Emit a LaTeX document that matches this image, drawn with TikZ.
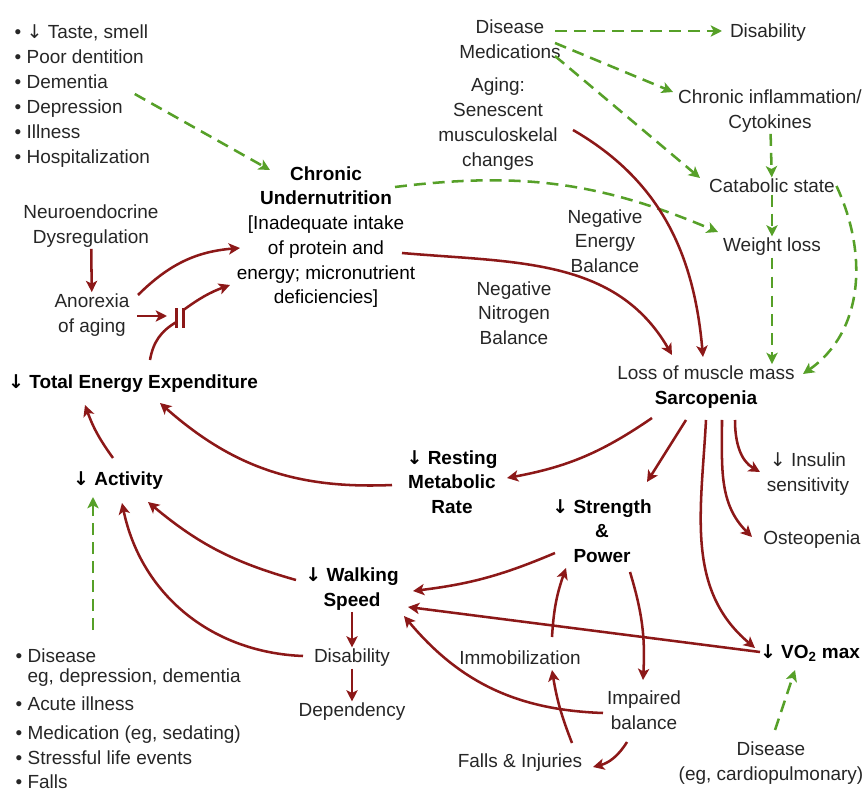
\documentclass[tikz,border=0pt]{standalone}
\usepackage{fontspec}
\setmainfont{Liberation Sans}
\newfontfamily\arrowfont{DejaVu Sans}
\newcommand{\dnarrow}{{\arrowfont ↓}}
\usepackage{tikz}
\usetikzlibrary{arrows.meta,calc}
\definecolor{arrowred}{RGB}{140,24,24}
\definecolor{dashgreen}{RGB}{86,160,40}
\definecolor{textgray}{RGB}{38,38,38}

\begin{document}
\begin{tikzpicture}[
        x=0.025cm, y=0.025cm,
        >={Stealth[length=8pt,width=8pt,inset=2pt]},
        txt/.style={align=center, inner sep=1pt, text=textgray, font=\fontsize{13.5}{17.6}\selectfont},
        bold txt/.style={txt, text=black, font=\fontsize{13.5}{17.6}\selectfont\bfseries},
        red line/.style={draw=arrowred, line width=1.8pt},
        red arrow/.style={red line, ->},
        green arrow/.style={->, draw=dashgreen, line width=1.8pt, dash pattern=on 8.5pt off 5pt},
    ]

    \useasboundingbox (0,0) rectangle (864,792);

    \node[txt, align=left, anchor=west, font=\fontsize{13.5}{17.9}\selectfont] (risks) at (13,696) {• \dnarrow\ Taste, smell\\• Poor dentition\\• Dementia\\• Depression\\• Illness\\• Hospitalization};
    \node[bold txt] (undernut) at (326,555) {Chronic\\Undernutrition\\\mdseries [Inadequate intake\\\mdseries of protein and\\\mdseries energy; micronutrient\\\mdseries deficiencies]};
    \node[txt] (neuro) at (91,566) {Neuroendocrine\\Dysregulation};
    \node[txt] (anorexia) at (92,477) {Anorexia\\of aging};
    \node[bold txt] (tee) at (133,408) {\dnarrow\ Total Energy Expenditure};
    \node[bold txt] (activity) at (118,311) {\dnarrow\ Activity};
    \node[bold txt] (rmr) at (452,310) {\dnarrow\ Resting\\Metabolic\\Rate};
    \node[txt] (sarc) at (706,405) {Loss of muscle mass\\\textcolor{black}{\bfseries Sarcopenia}};
    \node[bold txt] (strength) at (602,261) {\dnarrow\ Strength\\\&\\Power};
    \node[txt] (insulin) at (808,318) {\dnarrow\ Insulin\\sensitivity};
    \node[txt] (osteo) at (812,252) {Osteopenia};
    \node[bold txt] (vo2) at (810,139) {\dnarrow\ VO\textsubscript{2} max};
    \node[txt] (cardio) at (771,29) {Disease\\(eg, cardiopulmonary)};
    \node[bold txt] (walking) at (352,203) {\dnarrow\ Walking\\Speed};
    \node[txt] (disab) at (352,134) {Disability};
    \node[txt] (depend) at (352,80) {Dependency};
    \node[txt] (immob) at (520,134) {Immobilization};
    \node[txt] (falls) at (520,29) {Falls \& Injuries};
    \node[txt] (balance) at (644,82) {Impaired\\balance};
    \node[txt, align=left, anchor=north west, font=\fontsize{13.5}{14.2}\selectfont] (causes) at (14,145) {• Disease\\\phantom{• }eg, depression, dementia\\[6pt]• Acute illness\\[6pt]• Medication (eg, sedating)\\[3.5pt]• Stressful life events\\[3pt]• Falls};

    \node[txt] (dismed) at (510,753) {Disease\\Medications};
    \node[txt] (disabtop) at (768,759) {Disability};
    \node[txt] (inflam) at (770,681) {Chronic inflammation/\\Cytokines};
    \node[txt] (catab) at (772,606) {Catabolic state};
    \node[txt] (wloss) at (772,545) {Weight loss};
    \node[txt] (aging) at (498,668) {Aging:\\Senescent\\musculoskelal\\changes};
    \node[txt] (negen) at (605,551) {Negative\\Energy\\Balance};
    \node[txt] (negni) at (514,479) {Negative\\Nitrogen\\Balance};

    \coordinate (gate) at (180,474);

    \draw[green arrow] ($(risks.east)+(-17,2)$) -- ($(undernut)+(-56,67)$);
    \draw[green arrow] ($(undernut)+(69,50)$) to[bend left=15] ($(wloss)+(-54,15)$);
    \draw[green arrow] ($(dismed)+(45,8)$) -- ($(disabtop)+(-46,2)$);
    \draw[green arrow] ($(dismed)+(45,-4)$) -- ($(inflam)+(-97,19)$);
    \draw[green arrow] ($(dismed)+(45,-17)$) -- ($(catab)+(-72,8)$);
    \draw[green arrow] (inflam) -- (catab);
    \draw[green arrow] (catab) -- (wloss);
    \draw[green arrow] (wloss) -- (wloss |- sarc.north);
    \draw[green arrow] (catab.east) to[out=-65,in=35] ($(sarc)+(97,13)$);
    \draw[green arrow] ($(causes.north west)+(79,17)$) -- ($(activity)+(-25,-16)$);
    \draw[green arrow] ($(cardio)+(4,33)$) -- ($(vo2)+(-15,-17)$);

    \draw[red arrow] (neuro) -- (anorexia);
    \draw[red arrow] ($(anorexia)+(46,20)$) to[bend left=20] ($(undernut)+(-86,-11)$);
    \draw[red arrow] ($(anorexia)+(45,-1)$) -- ($(gate)+(-13,2)$);
    \draw[red line] ($(tee)+(17,24)$) to[bend left=25] ($(gate)+(-3.5,-4)$);
    \draw[red line] ($(gate)+(-3.5,-10)$) -- ($(gate)+(-3.5,10)$);
    \draw[red line] ($(gate)+(3.5,-10)$) -- ($(gate)+(3.5,10)$);
    \draw[red arrow] ($(gate)+(3.5,8)$) to[bend left=8] ($(undernut)+(-96,-48)$);
    \draw[red arrow] ($(undernut)+(76,-16)$) to[out=-5,in=120] ($(sarc)+(-34,32)$);
    \draw[red arrow] ($(aging)+(75,-6)$) to[out=-30,in=95] ($(sarc)+(-3,30)$);
    \draw[red arrow] ($(sarc)+(-54,-31)$) to[bend left=12] ($(rmr)+(55,4)$);
    \draw[red arrow] ($(sarc)+(-20,-33)$) -- ($(strength)+(45,49)$);
    \draw[red arrow] ($(sarc)+(0,-33)$) to[out=-93,in=140] ($(vo2)+(-55,5)$);
    \draw[red arrow] ($(sarc)+(16,-33)$) to[out=-90,in=135] ($(osteo)+(-60,3)$);
    \draw[red arrow] ($(sarc)+(29,-33)$) to[out=-90,in=150] ($(insulin)+(-48,2)$);
    \draw[red arrow] ($(rmr)+(-60,-3)$) to[bend left=22] ($(tee)+(27,-19)$);
    \draw[red arrow] ($(activity)+(-5,23)$) to[bend left=8] ($(tee)+(-48,-21)$);
    \draw[red arrow] ($(walking)+(-56,9)$) to[bend left=12] ($(activity)+(30,-21)$);
    \draw[red arrow] ($(disab)+(-49,2)$) to[bend left=38] ($(activity)+(4,-22)$);
    \draw[red arrow] (walking) -- (disab);
    \draw[red arrow] (disab) -- (depend);
    \draw[red arrow] ($(strength)+(-47,-22)$) to[bend left=8] ($(walking)+(61,-2)$);
    \draw[red arrow] ($(vo2)+(-50,1)$) -- ($(walking)+(56,-18)$);
    \draw[red arrow] ($(balance)+(-41,-3)$) to[bend left=24] ($(walking)+(52,-27)$);
    \draw[red arrow] ($(immob)+(32,21)$) to[bend left=8] ($(strength)+(-36,-37)$);
    \draw[red arrow] ($(strength)+(28,-41)$) to[bend left=10] ($(balance)+(-1,30)$);
    \draw[red arrow] ($(falls)+(52,20)$) to[bend left=6] ($(immob)+(32,-12)$);
    \draw[red arrow] ($(balance)+(-17,-32)$) to[bend left=22] ($(falls)+(73,-4)$);
\end{tikzpicture}
\end{document}
